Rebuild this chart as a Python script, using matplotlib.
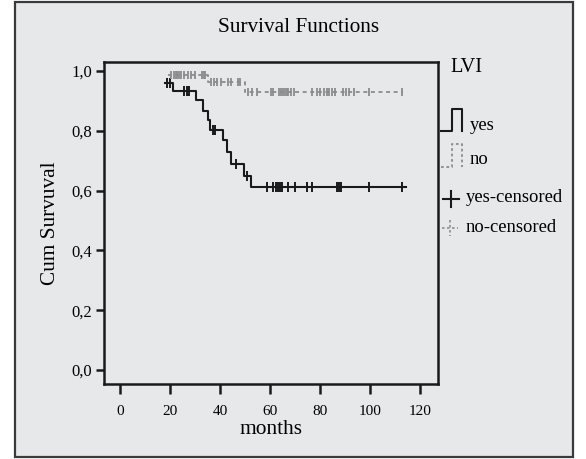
import numpy as np
import matplotlib
matplotlib.use("Agg")
import matplotlib.pyplot as plt
from matplotlib.patches import Rectangle

plt.rcParams['font.family'] = ['Liberation Serif', 'DejaVu Serif']

# Kaplan-Meier step data (months, cumulative survival)
yes_times = [18.0, 21.3, 30.3, 33.3, 35.1, 36.0, 41.1, 42.7, 44.3, 49.6, 52.3, 114.3]
yes_surv = [0.959, 0.933, 0.903, 0.866, 0.836, 0.803, 0.769, 0.730, 0.689, 0.649, 0.611, 0.611]
yes_censored = [18.9, 20.0, 25.6, 26.7, 27.7, 37.1, 38.0, 46.4, 50.7,
                58.7, 61.3, 62.4, 63.1, 63.9, 64.6, 67.0, 70.0, 74.8, 76.6,
                86.8, 87.5, 88.3, 99.7, 112.7]

no_times = [19.0, 35.0, 50.0, 113.0]
no_surv = [0.988, 0.963, 0.929, 0.929]
no_censored = [20.5, 21.5, 22.2, 22.9, 23.6, 24.3, 25.5, 27.0, 28.2, 30.0,
               32.7, 33.4, 34.1,
               36.3, 37.6, 38.9, 40.3, 43.3, 44.3, 47.1, 48.0,
               51.3, 52.6, 54.7, 60.2, 61.0, 63.5, 64.4, 65.2, 65.8, 66.6,
               67.3, 68.3, 69.6, 76.7, 78.9, 80.0, 81.7, 82.7, 83.7, 84.7,
               86.0, 89.3, 90.4, 91.7, 93.7, 99.7, 112.9]

x_ticks = [0, 20, 40, 60, 80, 100, 120]
y_ticks = [0.0, 0.2, 0.4, 0.6, 0.8, 1.0]
y_tick_labels = ['0,0', '0,2', '0,4', '0,6', '0,8', '1,0']

BG = '#e7e8ea'
GREY = '#8c8c8c'


def level_at(times, surv, t):
    idx = np.searchsorted(times, t, side='right') - 1
    return np.asarray(surv)[np.clip(idx, 0, len(surv) - 1)]


W, H = 586, 459
fig = plt.figure(figsize=(W / 100, H / 100), dpi=100, facecolor='white')

# background / frame layer in pixel coordinates
bg = fig.add_axes([0, 0, 1, 1], zorder=0)
bg.set_xlim(0, W)
bg.set_ylim(H, 0)
bg.axis('off')
bg.add_patch(Rectangle((15, 2), 558, 455, facecolor=BG, edgecolor='#3a3a3a', lw=1.6))

ax = fig.add_axes([104 / W, 1 - 384 / H, 334 / W, 322 / H], zorder=1)
ax.patch.set_alpha(0)

# curves
ax.step(yes_times, yes_surv, where='post', color='#1a1a1a', lw=1.5)
ax.step(no_times, no_surv, where='post', color=GREY, lw=1.3, ls=(0, (2.2, 2.0)))

yc = np.array(yes_censored)
ax.plot(yc, level_at(yes_times, yes_surv, yc), ls='none', marker='|',
        color='#1a1a1a', ms=7, mew=1.4)
nc = np.array(no_censored)
ax.plot(nc, level_at(no_times, no_surv, nc), ls='none', marker='|',
        color=GREY, ms=6, mew=1.3)

ax.set_xlim(-6.4, 127.2)
ax.set_ylim(-0.047, 1.030)
ax.set_xticks(x_ticks)
ax.set_yticks(y_ticks)
ax.set_yticklabels(y_tick_labels)
ax.tick_params(axis='x', length=7.2, width=1.8, pad=8, labelsize=11, color='#1a1a1a')
ax.tick_params(axis='y', length=5.8, width=1.8, pad=3, labelsize=12, color='#1a1a1a')
for s in ax.spines.values():
    s.set_linewidth(1.8)
    s.set_color('#1a1a1a')

ax.set_xlabel('months', fontsize=15.4, labelpad=1)
ax.set_ylabel('Cum Survuval', fontsize=15.3, labelpad=8)

fig.text(298.5 / W, 1 - 27 / H, 'Survival Functions', ha='center', va='center',
         fontsize=15.3)

# legend drawn by hand to the right of the plot
bg.text(450, 68, 'LVI', fontsize=14.7, va='center', ha='left')
bg.plot([440.7, 451.5, 451.5, 462.3, 462.3], [131, 131, 109, 109, 131],
        color='#1a1a1a', lw=1.5)
bg.text(470, 125, 'yes', fontsize=13.4, va='center', ha='left')
bg.plot([440.7, 451.5, 451.5, 462.3, 462.3], [167, 167, 144, 144, 167],
        color=GREY, lw=1.3, ls=(0, (1.5, 1.5)))
bg.text(470, 160, 'no', fontsize=13.4, va='center', ha='left')
bg.plot([443, 459], [199, 199], color='#1a1a1a', lw=1.5)
bg.plot([451, 451], [191, 207], color='#1a1a1a', lw=1.5)
bg.text(466, 198, 'yes-censored', fontsize=13.4, va='center', ha='left')
bg.plot([442, 458], [228, 228], color=GREY, lw=1.2, ls=(0, (1.5, 1.5)))
bg.plot([450, 450], [220, 236], color=GREY, lw=1.2, ls=(0, (1.5, 1.5)))
bg.text(466, 227, 'no-censored', fontsize=13.4, va='center', ha='left')

fig.savefig('out.png', dpi=100, facecolor='white')
